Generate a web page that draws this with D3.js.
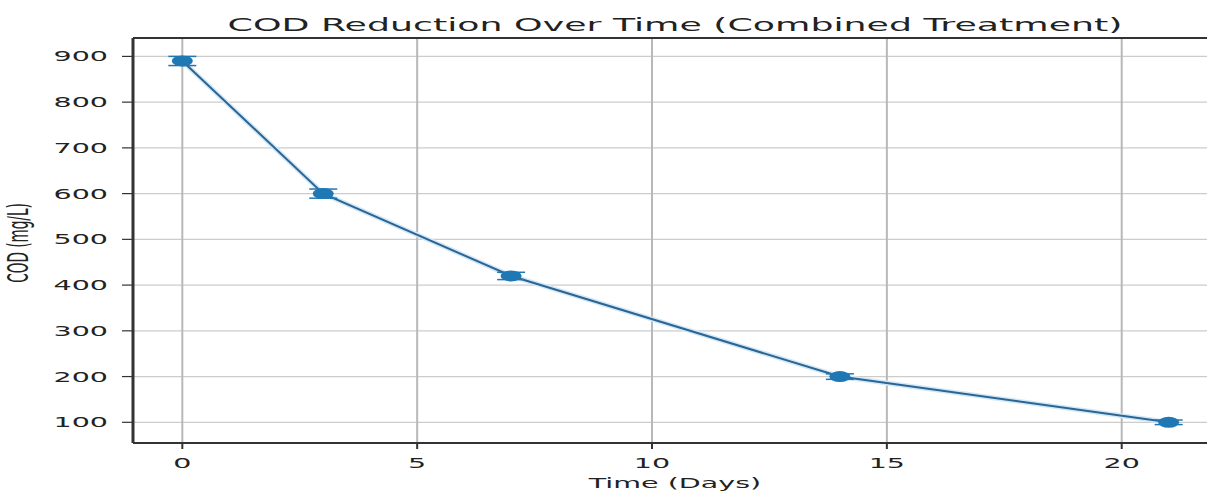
<!DOCTYPE html>
<html>
<head>
<meta charset="utf-8">
<script src="https://cdn.jsdelivr.net/npm/d3@7"></script>
<style>
  html, body { margin: 0; padding: 0; background: #fff; }
  svg { display: block; font-family: "DejaVu Sans", sans-serif; }
</style>
</head>
<body>
<svg id="chart" width="1207" height="492"></svg>
<script>
// data
var days = [0, 3, 7, 14, 21];
var cod = [890, 600, 420, 200, 100];
var codErr = [10, 10, 8, 6, 5];
var xTicks = [0, 5, 10, 15, 20];
var yTicks = [100, 200, 300, 400, 500, 600, 700, 800, 900];

var W = 1207, H = 492;
var SX = 2.1;              // the picture is stretched sideways, text too
var box = { left: 133, right: 1218, top: 38, bottom: 443 };
var BLUE = '#1f77b4';

var svg = d3.select('#chart');

var x = d3.scaleLinear().domain([-1.05, 22.05]).range([box.left, box.right]);
var y = d3.scaleLinear().domain([54.75, 940.25]).range([box.bottom, box.top]);

// stretched text helper
function label(g, px, py, txt, size, anchor, rot) {
  var t = 'translate(' + px + ',' + py + ') scale(' + SX + ',1)' + (rot ? ' rotate(' + rot + ')' : '');
  return g.append('text')
    .attr('transform', t)
    .attr('text-anchor', anchor)
    .attr('font-size', size)
    .attr('fill', '#222')
    .text(txt);
}

svg.append('clipPath').attr('id', 'plot')
  .append('rect')
  .attr('x', box.left).attr('y', box.top)
  .attr('width', box.right - box.left).attr('height', box.bottom - box.top);

// grid
var grid = svg.append('g');
grid.selectAll('line.h').data(yTicks).enter().append('line')
  .attr('x1', box.left).attr('x2', box.right)
  .attr('y1', function (d) { return y(d); }).attr('y2', function (d) { return y(d); })
  .attr('stroke', '#cccccc').attr('stroke-width', 1.2);
grid.selectAll('line.v').data(xTicks).enter().append('line')
  .attr('y1', box.top).attr('y2', box.bottom)
  .attr('x1', function (d) { return x(d); }).attr('x2', function (d) { return x(d); })
  .attr('stroke', '#b8b8b8').attr('stroke-width', 2);

// series
var plot = svg.append('g').attr('clip-path', 'url(#plot)');
var pts = days.map(function (d, i) { return { x: d, y: cod[i], e: codErr[i] }; });
var line = d3.line().x(function (d) { return x(d.x); }).y(function (d) { return y(d.y); });

plot.append('path')
  .datum(pts)
  .attr('fill', 'none')
  .attr('stroke', '#d3e8f7')
  .attr('stroke-width', 5)
  .attr('d', line);
plot.append('path')
  .datum(pts)
  .attr('fill', 'none')
  .attr('stroke', '#2a6594')
  .attr('stroke-width', 2)
  .attr('d', line);

var eb = plot.append('g').selectAll('g').data(pts).enter().append('g');
eb.append('line')
  .attr('x1', function (d) { return x(d.x); }).attr('x2', function (d) { return x(d.x); })
  .attr('y1', function (d) { return y(d.y - d.e); }).attr('y2', function (d) { return y(d.y + d.e); })
  .attr('stroke', BLUE).attr('stroke-width', 3);
[-1, 1].forEach(function (s) {
  eb.append('line')
    .attr('x1', function (d) { return x(d.x) - 14; }).attr('x2', function (d) { return x(d.x) + 14; })
    .attr('y1', function (d) { return y(d.y + s * d.e); })
    .attr('y2', function (d) { return y(d.y + s * d.e); })
    .attr('stroke', BLUE).attr('stroke-width', 1.5);
});
eb.append('ellipse')
  .attr('cx', function (d) { return x(d.x); })
  .attr('cy', function (d) { return y(d.y); })
  .attr('rx', 10.5).attr('ry', 5.5)
  .attr('fill', BLUE);

// spines
var sp = svg.append('g').attr('stroke', '#333');
sp.append('line').attr('x1', box.left).attr('x2', box.left).attr('y1', box.top).attr('y2', box.bottom).attr('stroke-width', 3);
sp.append('line').attr('x1', box.left).attr('x2', box.right).attr('y1', box.bottom).attr('y2', box.bottom).attr('stroke-width', 2);
sp.append('line').attr('x1', box.left).attr('x2', box.right).attr('y1', box.top).attr('y2', box.top).attr('stroke-width', 2);

// ticks
var tk = svg.append('g');
tk.selectAll('line.yt').data(yTicks).enter().append('line')
  .attr('x1', box.left - 11).attr('x2', box.left)
  .attr('y1', function (d) { return y(d); }).attr('y2', function (d) { return y(d); })
  .attr('stroke', '#333').attr('stroke-width', 1.2);
tk.selectAll('line.xt').data(xTicks).enter().append('line')
  .attr('y1', box.bottom).attr('y2', box.bottom + 6)
  .attr('x1', function (d) { return x(d); }).attr('x2', function (d) { return x(d); })
  .attr('stroke', '#333').attr('stroke-width', 2);

yTicks.forEach(function (v) {
  label(svg, box.left - 25, y(v) + 5, String(v), 13.6, 'end');
});
xTicks.forEach(function (v) {
  label(svg, x(v), box.bottom + 25, String(v), 13.6, 'middle');
});

label(svg, 675, 31, 'COD Reduction Over Time (Combined Treatment)', 17.3, 'middle');
label(svg, 675, 488, 'Time (Days)', 13.6, 'middle');
label(svg, 28, 243, 'COD (mg/L)', 13.6, 'middle', -90);
</script>
</body>
</html>
